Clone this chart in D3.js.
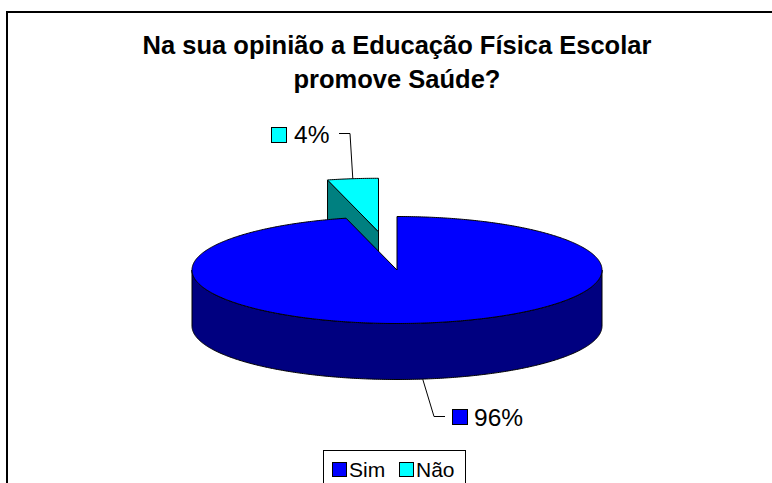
<!DOCTYPE html>
<html><head><meta charset="utf-8">
<script src="https://cdn.jsdelivr.net/npm/d3@7"></script>
<style>html,body{margin:0;padding:0;background:#fff;}svg{display:block;font-family:"Liberation Sans",Arial,sans-serif;}</style>
</head><body>
<script>
const titleLines = ["Na sua opinião a Educação Física Escolar", "promove Saúde?"];
const categories = ["Sim", "Não"];
const values = [96, 4];
const labels = ["96%", "4%"];
const topColors = ["#0000FF", "#00FFFF"];
const sideColors = ["#000080", "#008080"];
const explode = [0, 0.72];

const W = 772, H = 483;
const svg = d3.select("body").append("svg").attr("width", W).attr("height", H);

// frame
svg.append("rect").attr("x", 7).attr("y", 12).attr("width", 820).attr("height", 520)
  .attr("fill", "#fff").attr("stroke", "#000").attr("stroke-width", 2);

// title
const title = svg.append("text").attr("text-anchor", "middle").attr("font-weight", "bold")
  .attr("font-size", 25.5).attr("fill", "#000");
titleLines.forEach((t, i) => title.append("tspan").attr("x", 397).attr("y", 54 + i * 34).text(t));

// 3D pie geometry
const cx = 397, cy = 270, rx = 205, ry = 53.5, depth = 56;
const sx = d3.scaleLinear().domain([-1, 1]).range([cx - rx, cx + rx]);
const sy = d3.scaleLinear().domain([-1, 1]).range([cy - ry, cy + ry]);
const pie = d3.pie().sort(null).startAngle(0).endAngle(2 * Math.PI);
const arcs = pie(values);

function pt(a, ox, oy, dz) { return [sx(Math.sin(a)) + ox, sy(-Math.cos(a)) + oy + dz]; }
function arcPts(a0, a1, ox, oy, dz) {
  const n = Math.max(2, Math.ceil((a1 - a0) / 0.01));
  return d3.range(n + 1).map(i => pt(a0 + (a1 - a0) * i / n, ox, oy, dz));
}
const line = d3.line();
const offsets = arcs.map((d, i) => {
  const m = (d.startAngle + d.endAngle) / 2;
  return [rx * explode[i] * Math.sin(m), -ry * explode[i] * Math.cos(m)];
});

const g = svg.append("g").attr("stroke", "#000").attr("stroke-width", 1).attr("stroke-linejoin", "round");

// draw back slice (Não) first, then Sim
const order = [1, 0];
order.forEach(i => {
  const d = arcs[i];
  const [ox, oy] = offsets[i];
  const c0 = [cx + ox, cy + oy];
  // radial side faces that face the viewer
  [d.startAngle, d.endAngle].forEach((a, k) => {
    const facingFront = (k === 0 ? Math.sin(a) : -Math.sin(a)) < 0;
    if (facingFront && Math.abs(Math.sin(a)) > 1e-6) {
      const p = pt(a, ox, oy, 0);
      g.append("path").attr("fill", sideColors[i])
        .attr("d", line([c0, p, [p[0], p[1] + depth], [c0[0], c0[1] + depth]]) + "Z");
    }
  });
  // outer wall: front half portion
  const w0 = Math.max(d.startAngle, Math.PI / 2), w1 = Math.min(d.endAngle, 3 * Math.PI / 2);
  if (w1 > w0) {
    const top = arcPts(w0, w1, ox, oy, 0);
    const bot = arcPts(w0, w1, ox, oy, depth).reverse();
    g.append("path").attr("fill", sideColors[i]).attr("d", line(top.concat(bot)) + "Z");
  }
  // top face
  const tp = [c0].concat(arcPts(d.startAngle, d.endAngle, ox, oy, 0));
  g.append("path").attr("fill", topColors[i]).attr("d", line(tp) + "Z");
});

// data labels with leader lines
const lab = svg.append("g").attr("font-size", 24.5).attr("fill", "#000");
// Sim (96%)
{
  const d = arcs[0], m = (d.startAngle + d.endAngle) / 2;
  const p = pt(m, offsets[0][0], offsets[0][1], depth);
  svg.append("path").attr("fill", "none").attr("stroke", "#000").attr("stroke-width", 1)
    .attr("d", line([p, [434, 416.5], [445, 416.5]]));
  lab.append("rect").attr("x", 452.5).attr("y", 409.5).attr("width", 15).attr("height", 15)
    .attr("fill", topColors[0]).attr("stroke", "#000");
  lab.append("text").attr("x", 474).attr("y", 426).text(labels[0]);
}
// Não (4%)
{
  const d = arcs[1], m = (d.startAngle + d.endAngle) / 2;
  const p = pt(m, offsets[1][0], offsets[1][1], 0);
  svg.append("path").attr("fill", "none").attr("stroke", "#000").attr("stroke-width", 1)
    .attr("d", line([[339, 133.5], [350, 133.5], p]));
  lab.append("rect").attr("x", 271.5).attr("y", 127.5).attr("width", 15).attr("height", 15)
    .attr("fill", topColors[1]).attr("stroke", "#000");
  lab.append("text").attr("x", 294).attr("y", 143).text(labels[1]);
}

// legend
const lg = svg.append("g").attr("font-size", 21);
lg.append("rect").attr("x", 323.5).attr("y", 450.5).attr("width", 142).attr("height", 60)
  .attr("fill", "#fff").attr("stroke", "#000");
const lx = [332, 399];
categories.forEach((c, i) => {
  lg.append("rect").attr("x", lx[i] + 0.5).attr("y", 462.5).attr("width", 14).attr("height", 14)
    .attr("fill", topColors[i]).attr("stroke", "#000");
  lg.append("text").attr("x", lx[i] + 17).attr("y", 477).text(c);
});
</script>
</body></html>
